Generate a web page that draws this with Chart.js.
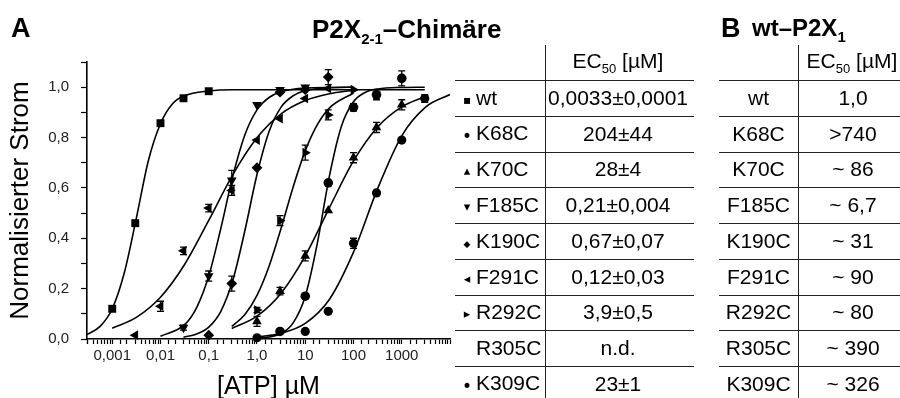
<!DOCTYPE html>
<html>
<head>
<meta charset="utf-8">
<script src="https://cdn.jsdelivr.net/npm/chart.js@4.4.1/dist/chart.umd.min.js"></script>
<style>
  html, body { margin: 0; padding: 0; background: #fff; }
  body { width: 900px; height: 398px; overflow: hidden; position: relative;
         font-family: "Liberation Sans", Arial, sans-serif; color: #000; }
  #chartBox { position: absolute; left: 0; top: 0; width: 460px; height: 402px; }
  .head { position: absolute; font-weight: bold; line-height: 1; white-space: nowrap; }
  .head sub { font-size: 15px; vertical-align: -6px; }
  .hline { position: absolute; height: 0; border-top: 1.5px solid #222; }
  .vline { position: absolute; width: 0; border-left: 1.5px solid #222; }
  .cell { position: absolute; height: 35.75px; display: flex; align-items: center;
          font-size: 21px; white-space: nowrap; }
  .cell sub { font-size: 13px; vertical-align: -5px; }
  .mk { display: inline-block; width: 18px; text-align: center;
        font-family: "DejaVu Sans", sans-serif; }
</style>
</head>
<body>
<div id="chartBox"><canvas id="doseChart" width="460" height="402"></canvas></div>

<div class="head" style="left:11px; top:15px; font-size:27px;">A</div>
<div class="head" style="left:312px; top:16px; font-size:26px;">P2X<sub>2-1</sub>–Chimäre</div>
<div class="head" style="left:721px; top:15px; font-size:27px;">B</div>
<div class="head" style="left:752px; top:16px; font-size:24px;">wt–P2X<sub>1</sub></div>

<div id="tables"></div>

<script>
// concentrations in µM, normalised current (0..1)
const wtConc = [0.001, 0.003, 0.01, 0.03, 0.1];
const wtResp = [0.12, 0.46, 0.857, 0.956, 0.984];
const wtErr = [0, 0, 0, 0, 0];
const wtFitConc = [0.0003, 0.00056, 0.001, 0.00178, 0.00316, 0.00562, 0.01, 0.0178, 0.0316, 0.1, 0.316, 1, 10, 100, 1000, 3000];
const wtFitResp = [0.018, 0.05, 0.12, 0.263, 0.48, 0.709, 0.855, 0.934, 0.966, 0.985, 0.99, 0.99, 0.99, 0.99, 0.99, 0.99];

const k68Conc = [1, 10, 30, 100, 300, 1000, 3000];
const k68Resp = [0.005, 0.03, 0.11, 0.38, 0.58, 0.79, 0.955];
const k68Err = [0, 0, 0, 0.02, 0.01, 0, 0.015];
const k68FitConc = [1, 3.16, 10, 31.6, 100, 316, 1000, 3162, 10000];
const k68FitResp = [0.008, 0.023, 0.062, 0.157, 0.345, 0.597, 0.807, 0.922, 0.971];

const k70Conc = [1, 3, 10, 30, 100, 300, 1000];
const k70Resp = [0.07, 0.19, 0.33, 0.51, 0.72, 0.84, 0.93];
const k70Err = [0.02, 0.015, 0.02, 0, 0.02, 0.02, 0.02];
const k70FitConc = [0.3, 1, 3.16, 10, 31.6, 100, 316, 1000, 3000];
const k70FitResp = [0.042, 0.091, 0.182, 0.33, 0.521, 0.707, 0.842, 0.922, 0.962];

const f185Conc = [0.03, 0.1, 0.3, 1, 3, 10];
const f185Resp = [0.045, 0.25, 0.63, 0.93, 0.99, 1.0];
const f185Err = [0.01, 0.02, 0.04, 0, 0, 0];
const f185FitConc = [0.01, 0.0316, 0.0562, 0.1, 0.178, 0.316, 0.562, 1, 1.78, 3.16, 10, 31.6, 100];
const f185FitResp = [0.011, 0.057, 0.125, 0.25, 0.439, 0.647, 0.811, 0.91, 0.959, 0.982, 0.997, 0.999, 1.0];

const k190Conc = [0.1, 0.3, 1, 3, 10, 30];
const k190Resp = [0.015, 0.22, 0.68, 0.98, 0.99, 1.04];
const k190Err = [0, 0.03, 0, 0, 0, 0.03];
const k190FitConc = [0.03, 0.0562, 0.1, 0.178, 0.316, 0.562, 1, 1.78, 3.16, 5.62, 10, 31.6, 100];
const k190FitResp = [0.007, 0.02, 0.047, 0.11, 0.234, 0.431, 0.653, 0.824, 0.921, 0.966, 0.986, 0.998, 1.0];

const f291Conc = [0.003, 0.01, 0.03, 0.1, 0.3, 1, 3, 10, 30];
const f291Resp = [0.015, 0.13, 0.35, 0.52, 0.59, 0.79, 0.875, 0.955, 0.995];
const f291Err = [0, 0.02, 0.015, 0.015, 0.02, 0, 0, 0, 0];
const f291FitConc = [0.001, 0.00316, 0.01, 0.0316, 0.1, 0.316, 1, 3.16, 10, 31.6, 100];
const f291FitResp = [0.043, 0.086, 0.166, 0.296, 0.471, 0.653, 0.799, 0.894, 0.947, 0.974, 0.988];

const r292Conc = [1, 3, 10, 30, 100];
const r292Resp = [0.115, 0.47, 0.74, 0.89, 0.99];
const r292Err = [0.01, 0.02, 0.03, 0.02, 0];
const r292FitConc = [0.3, 0.562, 1, 1.78, 3.16, 5.62, 10, 17.8, 31.6, 100];
const r292FitResp = [0.05, 0.097, 0.173, 0.289, 0.44, 0.604, 0.747, 0.851, 0.917, 0.977];

const k309Conc = [3, 10, 30, 100, 300, 1000];
const k309Resp = [0.03, 0.17, 0.62, 0.92, 0.97, 1.035];
const k309Err = [0, 0, 0, 0.015, 0.02, 0.03];
const k309FitConc = [1, 1.78, 3.16, 5.62, 10, 17.8, 31.6, 56.2, 100, 178, 316, 1000, 3000];
const k309FitResp = [0.003, 0.008, 0.022, 0.064, 0.17, 0.38, 0.646, 0.845, 0.942, 0.98, 0.993, 0.999, 1.0];

// tick labels of the log axis
const xTickLabels = { '-3': '0,001', '-2': '0,01', '-1': '0,1', '0': '1,0', '1': '10', '2': '100', '3': '1000' };

// tables
const chimLabels = ['wt', 'K68C', 'K70C', 'F185C', 'K190C', 'F291C', 'R292C', 'R305C', 'K309C'];
const chimMarks = ['▪', '•', '▴', '▾', '◆', '◂', '▸', '', '•'];
const chimEc50 = ['0,0033±0,0001', '204±44', '28±4', '0,21±0,004', '0,67±0,07', '0,12±0,03', '3,9±0,5', 'n.d.', '23±1'];
const wtP2x1Ec50 = ['1,0', '>740', '~ 86', '~ 6,7', '~ 31', '~ 90', '~ 80', '~ 390', '~ 326'];

const pts = (xs, ys) => xs.map((x, i) => ({ x: x, y: ys[i] }));

const series = [
  { conc: wtConc, resp: wtResp, err: wtErr, fitConc: wtFitConc, fitResp: wtFitResp, style: 'rect', rot: 0, r: 5.6 },
  { conc: k68Conc, resp: k68Resp, err: k68Err, fitConc: k68FitConc, fitResp: k68FitResp, style: 'circle', rot: 0, r: 4.6 },
  { conc: k70Conc, resp: k70Resp, err: k70Err, fitConc: k70FitConc, fitResp: k70FitResp, style: 'triangle', rot: 0, r: 5.6 },
  { conc: f185Conc, resp: f185Resp, err: f185Err, fitConc: f185FitConc, fitResp: f185FitResp, style: 'triangle', rot: 180, r: 5.6 },
  { conc: k190Conc, resp: k190Resp, err: k190Err, fitConc: k190FitConc, fitResp: k190FitResp, style: 'rectRot', rot: 0, r: 5.4 },
  { conc: f291Conc, resp: f291Resp, err: f291Err, fitConc: f291FitConc, fitResp: f291FitResp, style: 'triangle', rot: -90, r: 5.6 },
  { conc: r292Conc, resp: r292Resp, err: r292Err, fitConc: r292FitConc, fitResp: r292FitResp, style: 'triangle', rot: 90, r: 5.6 },
  { conc: k309Conc, resp: k309Resp, err: k309Err, fitConc: k309FitConc, fitResp: k309FitResp, style: 'circle', rot: 0, r: 4.8 }
];

const datasets = [];
series.forEach(s => {
  datasets.push({
    data: pts(s.fitConc, s.fitResp),
    showLine: true,
    pointRadius: 0,
    borderColor: '#000',
    borderWidth: 1.6,
    cubicInterpolationMode: 'monotone',
    fill: false
  });
  datasets.push({
    data: pts(s.conc, s.resp),
    errors: s.err,
    showLine: false,
    pointStyle: s.style,
    pointRotation: s.rot,
    pointRadius: s.r,
    backgroundColor: '#000',
    borderColor: '#000',
    borderWidth: 0,
    clip: false
  });
});

const errorBars = {
  id: 'errorBars',
  afterDatasetsDraw(chart) {
    const { ctx } = chart;
    const xs = chart.scales.x;
    const ys = chart.scales.y;
    ctx.save();
    ctx.strokeStyle = '#000';
    ctx.lineWidth = 1.3;
    chart.data.datasets.forEach(ds => {
      if (!ds.errors) return;
      ds.data.forEach((p, i) => {
        const e = ds.errors[i];
        if (!e) return;
        const px = xs.getPixelForValue(p.x);
        const top = ys.getPixelForValue(p.y + e);
        const bot = ys.getPixelForValue(p.y - e);
        ctx.beginPath();
        ctx.moveTo(px, top); ctx.lineTo(px, bot);
        ctx.moveTo(px - 3.5, top); ctx.lineTo(px + 3.5, top);
        ctx.moveTo(px - 3.5, bot); ctx.lineTo(px + 3.5, bot);
        ctx.stroke();
      });
    });
    ctx.restore();
  }
};

Chart.defaults.font.family = '"Liberation Sans", Arial, sans-serif';
Chart.defaults.color = '#000';

const ctx = document.getElementById('doseChart').getContext('2d');
new Chart(ctx, {
  type: 'scatter',
  data: { datasets: datasets },
  plugins: [errorBars],
  options: {
    responsive: false,
    animation: false,
    layout: { padding: { top: 62, right: 10, bottom: 2, left: 0 } },
    plugins: {
      legend: { display: false },
      tooltip: { enabled: false }
    },
    scales: {
      x: {
        type: 'logarithmic',
        min: 0.0003,
        max: 10000,
        afterFit: scale => { scale.height = 61; },
        border: { display: true, color: '#000', width: 1.6 },
        grid: { drawOnChartArea: false, drawTicks: true, tickLength: 5, tickColor: '#000', tickWidth: 1.2 },
        ticks: {
          autoSkip: false,
          maxRotation: 0,
          padding: 3,
          color: '#222',
          font: { size: 15 },
          callback: function (value) {
            const lg = Math.log10(value);
            const k = Math.round(lg);
            if (Math.abs(lg - k) > 1e-6) return '';
            return xTickLabels[String(k)] || '';
          }
        },
        title: {
          display: true,
          text: '[ATP] µM',
          color: '#000',
          font: { size: 25, lineHeight: 1 },
          padding: { top: 10, bottom: 0 }
        }
      },
      y: {
        min: 0,
        max: 1.1,
        afterFit: scale => { scale.width = 87; },
        border: { display: true, color: '#000', width: 1.6 },
        grid: { drawOnChartArea: false, drawTicks: true, tickLength: 6, tickColor: '#000', tickWidth: 1.2 },
        ticks: {
          stepSize: 0.1,
          padding: 12,
          color: '#222',
          font: { size: 15 },
          callback: function (value) {
            const t = Math.round(value * 10);
            if (t % 2 !== 0 || t > 10) return '';
            return (t / 10).toFixed(1).replace('.', ',');
          }
        },
        title: {
          display: true,
          text: 'Normalisierter Strom',
          color: '#000',
          font: { size: 26, lineHeight: 1 },
          padding: { top: 8, bottom: 14 }
        }
      }
    }
  }
});

// tables A and B
const tables = document.getElementById('tables');
const rowTop = i => 80 + i * 35.75;
const markSize = { '▪': 12, '•': 17, '▴': 13, '▾': 13, '◆': 9, '◂': 13, '▸': 13, '': 13 };
const markShift = { '▪': 1, '•': -2, '▴': 1, '▾': 1, '◆': 1, '◂': 1, '▸': 1, '': 0 };

function addLine(cls, left, top, len) {
  const d = document.createElement('div');
  d.className = cls;
  d.style.left = left + 'px';
  d.style.top = top + 'px';
  if (cls === 'hline') d.style.width = len + 'px'; else d.style.height = len + 'px';
  tables.appendChild(d);
}

function addCell(html, left, top, width, align) {
  const d = document.createElement('div');
  d.className = 'cell';
  d.style.left = left + 'px';
  d.style.top = top + 'px';
  d.style.width = width + 'px';
  d.style.justifyContent = align;
  d.innerHTML = '<span>' + html + '</span>';
  tables.appendChild(d);
}

addLine('vline', 545, 45, 360);
addLine('vline', 798, 45, 360);
for (let i = 0; i <= 8; i++) {
  addLine('hline', 455, rowTop(i), 239);
  addLine('hline', 719, rowTop(i), 190);
}
addCell('EC<sub>50</sub> [µM]', 545, 45, 146, 'center');
addCell('EC<sub>50</sub> [µM]', 800, 45, 104, 'center');

chimLabels.forEach((lab, i) => {
  const top = rowTop(i);
  const m = chimMarks[i];
  const mark = '<span class="mk" style="font-size:' + markSize[m] + 'px; vertical-align:' +
    markShift[m] + 'px">' + m + '</span>';
  addCell(mark + lab, 458, top, 87, 'flex-start');
  addCell(chimEc50[i], 545, top, 146, 'center');
  addCell(lab, 719, top, 79, 'center');
  addCell(wtP2x1Ec50[i], 800, top, 106, 'center');
});
</script>
</body>
</html>
